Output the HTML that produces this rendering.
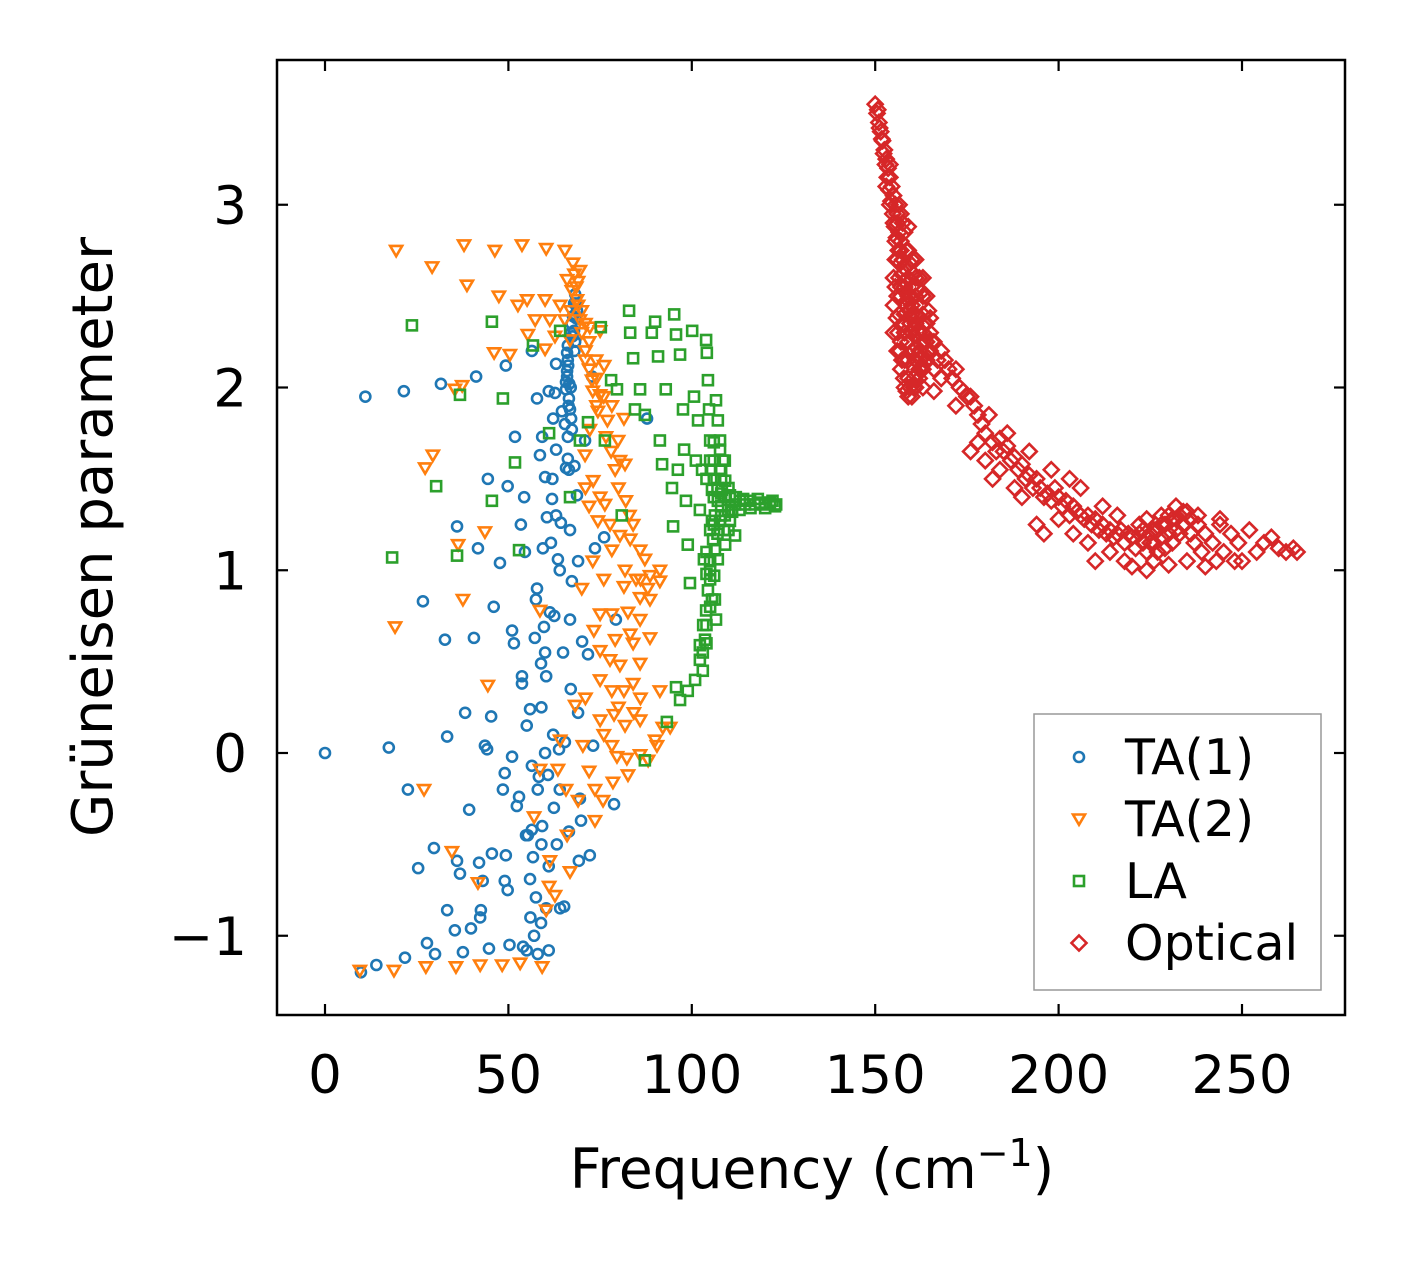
<!DOCTYPE html>
<html><head><meta charset="utf-8"><style>
body{margin:0;background:#fff}
svg text{font-family:"DejaVu Sans","Liberation Sans",sans-serif;fill:#000}
</style></head><body>
<svg id="chart" width="1406" height="1264" viewBox="0 0 1406 1264" xmlns="http://www.w3.org/2000/svg">
<rect width="1406" height="1264" fill="#fff"/>
<g id="marks"></g>
<g id="axes"></g>
<text x="812" y="1188" font-size="55" text-anchor="middle">Frequency (cm<tspan dy="-22" font-size="38">−1</tspan><tspan dy="22">)</tspan></text>
<text transform="translate(112,537) rotate(-90)" font-size="56" text-anchor="middle">Grüneisen parameter</text>
<g>
<rect x="1034" y="714" width="287" height="276" fill="#fff" stroke="#999" stroke-width="1.5"/>
<g id="legend-items"></g>
</g>
</svg>
<script>
const xTicks=[0,50,100,150,200,250];
const yTicks=[-1,0,1,2,3];
const yTickLabels=["−1","0","1","2","3"];
const seriesNames=["TA(1)","TA(2)","LA","Optical"];
const ta1=[[0,0],[9.8,-1.2],[11,1.95],[14,-1.16],[17.4,0.03],[21.5,1.98],[21.8,-1.12],[22.6,-0.2],[25.4,-0.63],[26.7,0.83],[27.8,-1.04],[29.7,-0.52],[30,-1.1],[31.6,2.02],[32.7,0.62],[33.3,0.09],[33.3,-0.86],[35.4,-0.97],[36,1.24],[36,-0.59],[36.8,-0.66],[37.6,-1.09],[38.2,0.22],[39.3,-0.31],[39.8,-0.96],[40.6,0.63],[41.2,2.06],[41.7,1.12],[42,-0.6],[42.3,-0.9],[42.5,-0.86],[43,-0.7],[43.6,0.04],[44.2,0.02],[44.4,1.5],[44.7,-1.07],[45.3,0.2],[45.5,-0.55],[46,0.8],[47.7,1.04],[48.5,-0.2],[49,-0.11],[49,-0.7],[49.3,-0.56],[49.3,2.12],[49.8,1.46],[49.8,-0.75],[50.3,-1.05],[51,0.67],[51,-0.02],[51.5,0.6],[51.8,1.73],[52.3,-0.29],[52.9,-0.24],[53.4,1.25],[53.7,0.42],[53.7,0.38],[54,-1.06],[54.3,1.4],[54.5,1.1],[54.8,-0.45],[55,0.15],[55.3,-0.45],[55.9,0.24],[55.9,-0.69],[56.4,2.2],[56.4,-0.07],[56.4,-0.42],[56.7,-0.57],[57.2,0.63],[57.5,0.84],[57.5,-0.79],[57.8,1.94],[57.8,0.9],[58,-1.1],[58.3,-0.13],[58.6,1.63],[58.9,0.49],[58.9,-0.93],[59.2,1.73],[59.2,-0.4],[59.4,1.12],[59.7,0.69],[60,1.51],[60.3,0.42],[60.3,-0.85],[60.5,1.29],[60.8,-0.12],[61,-0.62],[61.3,0.77],[61.6,1.15],[61.9,1.39],[62.2,1.83],[62.2,0.1],[62.4,-0.3],[62.7,1.97],[63,2.13],[63,1.66],[63.2,-0.5],[63.5,1.06],[63.8,0.02],[64.1,-0.85],[64.3,1.26],[64.6,1.87],[64.9,0.55],[65.2,-0.84],[65.4,0.06],[65.7,1.56],[65.7,1.99],[66,2.06],[66,2.19],[66.2,2.23],[66.2,1.73],[66.5,-0.43],[66.8,1.22],[66.8,0.73],[67.1,2.3],[67.3,0.94],[67.6,2.39],[67.9,2.46],[68.2,2.51],[68.4,2.38],[68.7,1.41],[69,0.22],[69.2,-0.59],[69.5,-0.25],[69.8,-0.37],[70.1,0.61],[70.9,1.71],[71.7,0.54],[72.2,-0.56],[72.8,2.06],[73.1,0.04],[73.6,1.12],[76.1,1.18],[78.8,-0.28],[79.3,0.73],[87.8,1.83],[65.7,2.03],[66,2.09],[66.2,2.15],[66.5,1.94],[66.8,1.88],[67.1,1.83],[67.3,1.77],[67.9,2.31],[68.2,2.25],[68.7,2.42],[66.2,1.61],[66.5,1.55],[65.4,1.8],[67,2.0],[68,2.2],[66.3,2.12],[66.6,2.02],[67.2,2.35],[68.5,2.46],[67.5,2.28],[66.4,1.9],[61,1.98],[62,1.5],[63,1.3],[64,1.0],[62.5,0.75],[60,0.55],[59,0.25],[60,0.0],[58,-0.2],[59,-0.5],[56,-0.9],[55,-1.08],[57,-1.0],[61,-1.08],[68,1.57],[69,1.05],[67,0.35],[64,-0.2]];
const ta2=[[19.4,2.75],[29.2,2.66],[37.9,2.78],[38.7,2.56],[46.3,2.75],[47.4,2.5],[53.7,2.78],[60.3,2.76],[65.4,2.75],[67.6,2.68],[69.5,2.64],[66,2.59],[67.3,2.53],[68.7,2.48],[64.1,2.45],[60,2.48],[52.6,2.45],[55.1,2.48],[57.3,2.37],[61.3,2.37],[65.4,2.37],[69.5,2.37],[72.2,2.33],[75,2.31],[46.1,2.19],[50.4,2.18],[55.3,2.29],[60,2.21],[62.7,2.28],[66.8,2.26],[70.9,2.15],[73.9,2.15],[76.1,2.12],[35.4,1.99],[37.4,2.01],[72.8,2.04],[75,1.96],[78.2,1.9],[81.5,1.83],[74.4,1.87],[29.4,1.63],[27.3,1.56],[72.2,1.77],[76.6,1.73],[79.9,1.71],[70.9,1.63],[80.4,1.6],[79.1,1.55],[81.8,1.58],[73.1,1.49],[75,1.4],[76.3,1.36],[74.4,1.27],[77.7,1.25],[80.4,1.19],[83.2,1.17],[78.2,1.11],[85.9,1.11],[87.2,1.06],[43.6,1.21],[36.3,1.14],[81.8,1],[84.8,0.95],[88.6,0.97],[91.3,1],[81.5,0.91],[85.9,0.85],[88.6,0.84],[91.3,0.94],[37.6,0.84],[19.1,0.69],[58.6,0.78],[75,0.76],[78.2,0.76],[82.6,0.77],[85.9,0.73],[79.1,0.62],[83.2,0.65],[88.6,0.63],[73.3,0.67],[75,0.56],[77.7,0.51],[80.4,0.48],[85.9,0.49],[75,0.4],[78.2,0.34],[81.5,0.34],[91.3,0.34],[44.4,0.37],[68.2,0.26],[75,0.18],[78.8,0.21],[81.8,0.15],[84.2,0.22],[85.9,0.18],[90,0.07],[92.1,0.14],[64.1,0.07],[70.3,0.04],[78.2,0.04],[79.6,-0.02],[82.3,-0.03],[85.9,-0.01],[88.1,-0.04],[90.5,0.04],[94.1,0.14],[58.6,-0.09],[63.5,-0.09],[65.7,-0.2],[69,-0.26],[73.6,-0.2],[75.8,-0.26],[78.5,-0.16],[82.6,-0.12],[27,-0.2],[34.6,-0.54],[41.7,-0.71],[61.3,-0.59],[66.8,-0.65],[73.6,-0.37],[62.7,-0.78],[60.3,-0.86],[61.1,-0.73],[27.5,-1.17],[18.8,-1.19],[35.7,-1.17],[42.3,-1.16],[48.3,-1.16],[53.2,-1.15],[59.2,-1.17],[9.5,-1.19],[68.5,2.55],[69,2.45],[70,2.3],[71,2.2],[72,2.1],[73,1.98],[74,1.9],[71,1.45],[72,1.35],[73,1.05],[70,0.9],[71,0.3],[76,0.95],[83,1.3],[84,0.38],[68,2.62],[69,2.58],[67,2.42],[70,2.42],[71,2.35],[72,2.25],[74,2.05],[76,1.95],[77,1.82],[78,1.65],[80,1.45],[82,1.38],[84,1.25],[86,0.95],[88,0.9],[84,0.6],[86,0.3],[80,0.25],[76,0.1],[72,-0.1],[66,-0.45],[57,-0.35]];
const la=[[23.7,2.34],[18.3,1.07],[30.3,1.46],[36.8,1.96],[36,1.08],[45.5,2.36],[48.5,1.94],[45.5,1.38],[51.8,1.59],[52.9,1.11],[56.7,2.23],[61.1,1.75],[64.1,2.31],[66.8,1.4],[69.5,1.71],[71.7,1.81],[75.2,2.33],[76.3,1.71],[78,2.04],[79.6,1.99],[80.9,1.3],[82.9,2.42],[83.2,2.3],[84,2.16],[84.5,1.88],[85.9,1.99],[87.2,1.85],[89.1,2.3],[90.8,2.17],[90,2.36],[91.3,1.71],[91.9,1.58],[92.9,1.99],[94.6,1.45],[94.9,1.24],[95.2,2.4],[95.7,2.29],[96.2,1.55],[96.8,2.18],[97.6,1.88],[97.9,1.66],[98.4,1.38],[98.9,1.14],[99.5,0.93],[100.1,2.31],[100.6,1.95],[101.1,1.6],[101.7,1.82],[102.2,1.33],[102.8,1.55],[103.3,1.06],[103.9,2.26],[104.1,2.19],[104.4,2.04],[104.7,1.88],[105,1.71],[105.2,1.55],[105.5,1.44],[105.5,1.27],[105.8,1.17],[106.1,0.97],[106.3,0.84],[106.6,0.73],[105.5,0.84],[103.6,0.62],[102.2,0.51],[100.9,0.4],[98.9,0.34],[96.8,0.29],[93.2,0.17],[87.2,-0.04],[95.7,0.36],[107.1,1.38],[108.2,1.44],[109.1,1.49],[109.9,1.33],[110.4,1.41],[111.8,1.36],[113.1,1.38],[114.5,1.36],[115.9,1.38],[117.2,1.36],[118.6,1.37],[119.9,1.36],[121.3,1.37],[122.7,1.35],[107.7,1.66],[107.1,1.82],[106.6,1.93],[107.7,1.55],[108.8,1.22],[106.3,1.11],[105,1],[104.4,0.89],[103.9,0.78],[103.1,0.7],[102.2,0.59],[105,1.22],[106.3,1.3],[107.7,1.27],[110.4,1.27],[109.1,1.14],[111.8,1.19],[107.1,1.06],[107.7,1.71],[108.5,1.6],[104,1.5],[106,1.5],[108,1.42],[109,1.3],[104,1.1],[105,0.95],[104,0.6],[103,0.45],[106,1.6],[107,1.45],[108,1.5],[109,1.4],[110,1.45],[111,1.32],[112,1.4],[113,1.33],[114,1.39],[116,1.34],[118,1.39],[120,1.34],[122,1.38],[123,1.36],[108,1.35],[107,1.2],[106,1.25],[105,1.05],[104,0.98],[105,0.8],[104,0.7],[103,0.55],[106,1.4],[108,1.3],[110,1.22],[106,1.7],[105,1.6],[108,1.55],[109,1.6]];
const optical=[[150,3.55],[150.5,3.5],[151,3.45],[151.5,3.4],[152,3.35],[152.5,3.3],[153,3.25],[153.5,3.2],[154,3.15],[154.5,3.1],[155,3.05],[155.5,3.0],[156,2.95],[156,2.9],[156.5,2.85],[157,2.8],[157,2.75],[157.5,2.7],[155,2.6],[155,2.45],[155,2.3],[156,2.2],[157,2.1],[158,2.0],[159,1.95],[160,1.95],[161,2.0],[162,2.05],[158,2.65],[159,2.6],[160,2.55],[161,2.5],[162,2.45],[163,2.4],[164,2.35],[165,2.3],[158,2.3],[159,2.25],[160,2.2],[161,2.15],[162,2.1],[163,2.1],[164,2.15],[165,2.2],[166,2.25],[160,2.4],[161,2.35],[162,2.3],[163,2.25],[164,2.5],[162,2.6],[160,2.7],[158,2.85],[159,2.75],[156.5,2.4],[157,2.5],[157.5,2.35],[158.5,2.45],[159.5,2.35],[160.5,2.05],[163,2.0],[153,3.1],[154,3.0],[155,2.9],[155.5,2.8],[156,2.7],[156.5,2.6],[157,2.55],[158,2.55],[159,2.5],[160,2.45],[161,2.4],[162,2.2],[163,2.3],[164,2.25],[158,2.15],[159,2.05],[157,2.25],[156,2.5],[161,2.6],[163,2.5],[160,2.3],[159,2.15],[158,2.4],[150.7,3.52],[151.2,3.42],[151.8,3.36],[152.3,3.28],[152.8,3.22],[153.3,3.15],[153.8,3.08],[154.3,3.02],[154.8,2.95],[155.3,2.88],[155.8,2.82],[156.3,2.75],[156.8,2.68],[157.3,2.62],[157.8,2.58],[158.3,2.52],[158.8,2.48],[159.3,2.42],[159.8,2.38],[160.3,2.32],[160.8,2.28],[161.3,2.22],[161.8,2.18],[162.3,2.15],[162.8,2.12],[155.5,2.7],[155.5,2.55],[155.8,2.38],[156.2,2.3],[156.8,2.2],[157.3,2.15],[157.8,2.05],[158.5,1.98],[159.5,2.0],[160.5,2.0],[161.5,2.08],[162.5,2.1],[163.5,2.18],[164.5,2.2],[165.5,2.25],[163.5,2.35],[164.5,2.42],[165,2.38],[162.5,2.52],[161.5,2.55],[160.5,2.62],[159.5,2.68],[158.5,2.75],[157.5,2.9],[156.5,3.0],[154,3.22],[157,2.95],[159,2.88],[161,2.7],[163,2.6],[166,2.1],[167,2.15],[168,2.2],[169,2.15],[170,2.1],[171,2.05],[172,2.1],[173,2.0],[174,1.98],[175,1.95],[176,1.95],[177,1.9],[178,1.85],[179,1.8],[180,1.75],[181,1.85],[182,1.7],[183,1.65],[184,1.72],[185,1.65],[186,1.68],[187,1.6],[188,1.62],[189,1.55],[190,1.58],[191,1.5],[192,1.52],[193,1.45],[194,1.5],[195,1.45],[196,1.4],[197,1.42],[198,1.38],[199,1.45],[200,1.4],[201,1.35],[202,1.38],[203,1.3],[204,1.35],[205,1.32],[206,1.3],[207,1.28],[208,1.3],[209,1.25],[210,1.28],[211,1.22],[212,1.25],[213,1.2],[214,1.22],[215,1.18],[216,1.2],[217,1.22],[218,1.15],[219,1.2],[220,1.18],[221,1.12],[222,1.2],[223,1.15],[224,1.1],[225,1.2],[226,1.15],[227,1.22],[228,1.18],[229,1.25],[230,1.2],[231,1.28],[232,1.22],[233,1.3],[234,1.25],[235,1.32],[236,1.2],[237,1.15],[238,1.25],[239,1.1],[240,1.2],[242,1.15],[244,1.25],[245,1.1],[247,1.2],[249,1.15],[250,1.05],[252,1.22],[254,1.1],[256,1.15],[258,1.18],[260,1.12],[262,1.1],[264,1.12],[265,1.1],[176,1.65],[180,1.6],[184,1.55],[188,1.45],[190,1.4],[194,1.25],[196,1.2],[200,1.28],[204,1.2],[208,1.15],[210,1.05],[214,1.1],[218,1.05],[220,1.02],[224,1.0],[226,1.05],[230,1.03],[235,1.05],[240,1.02],[243,1.05],[248,1.05],[172,1.9],[178,1.7],[182,1.5],[186,1.75],[192,1.65],[198,1.55],[203,1.5],[206,1.45],[212,1.35],[216,1.3],[228,1.3],[232,1.35],[238,1.3],[244,1.28],[168,2.05],[166,1.98],[222,1.25],[224,1.28],[226,1.22],[228,1.25],[230,1.3],[232,1.28],[234,1.32],[236,1.28],[233,1.2],[231,1.15],[229,1.12],[227,1.1],[225,1.15],[223,1.22]];

const L=277,R=1345,T=60,B=1015;
const xs=v=>325+v*3.668;
const ys=v=>753-v*182.75;
const NS="http://www.w3.org/2000/svg";
function mk(tag,attrs,parent){const e=document.createElementNS(NS,tag);for(const k in attrs)e.setAttribute(k,attrs[k]);parent.appendChild(e);return e;}
const colors=["#1f77b4","#ff7f0e","#2ca02c","#d62728"];
function marker(type,cx,cy,color,parent){
  let e;
  if(type===0)e=mk('circle',{cx:cx,cy:cy,r:5,fill:'none',stroke:color,'stroke-width':2.6},parent);
  else if(type===1)e=mk('polygon',{points:`${cx-6},${cy-4.5} ${cx+6},${cy-4.5} ${cx},${cy+5.8}`,fill:'none',stroke:color,'stroke-width':2.6},parent);
  else if(type===2)e=mk('rect',{x:cx-5,y:cy-5,width:10,height:10,fill:'none',stroke:color,'stroke-width':2.6},parent);
  else e=mk('polygon',{points:`${cx},${cy-7.5} ${cx+7.5},${cy} ${cx},${cy+7.5} ${cx-7.5},${cy}`,fill:'none',stroke:color,'stroke-width':2.6},parent);
  return e;
}
const marks=document.getElementById('marks');
const all=[ta1,ta2,la,optical];
const names=["ta1-point","ta2-point","la-point","optical-point"];
all.forEach((arr,si)=>{
  const g=mk('g',{},marks);
  
  
  arr.forEach(p=>{
    const m=marker(si,xs(p[0]),ys(p[1]),colors[si],g);
    
    
  });
});
const axes=document.getElementById('axes');
const frame=mk('rect',{x:L,y:T,width:R-L,height:B-T,fill:'none',stroke:'#000','stroke-width':2.5},axes);


xTicks.forEach(v=>{
  const x=xs(v);
  mk('line',{x1:x,y1:B,x2:x,y2:B-11,stroke:'#000','stroke-width':2.2},axes);
  mk('line',{x1:x,y1:T,x2:x,y2:T+11,stroke:'#000','stroke-width':2.2},axes);
  const t=mk('text',{x:x,y:1093,'font-size':53,'text-anchor':'middle'},axes);
  t.textContent=v;
  
  
});
yTicks.forEach((v,i)=>{
  const y=ys(v);
  mk('line',{x1:L,y1:y,x2:L+11,y2:y,stroke:'#000','stroke-width':2.2},axes);
  mk('line',{x1:R,y1:y,x2:R-11,y2:y,stroke:'#000','stroke-width':2.2},axes);
  const t=mk('text',{x:247,y:y+19,'font-size':53,'text-anchor':'end'},axes);
  t.textContent=yTickLabels[i];
  
  
});
const li=document.getElementById('legend-items');
seriesNames.forEach((n,i)=>{
  const y=757+i*62;
  const g=mk('g',{},li);
  
  
  marker(i,1079,y,colors[i],g);
  const t=mk('text',{x:1125,y:y+17,'font-size':49},g);
  t.textContent=n;
});
</script>
</body></html>
